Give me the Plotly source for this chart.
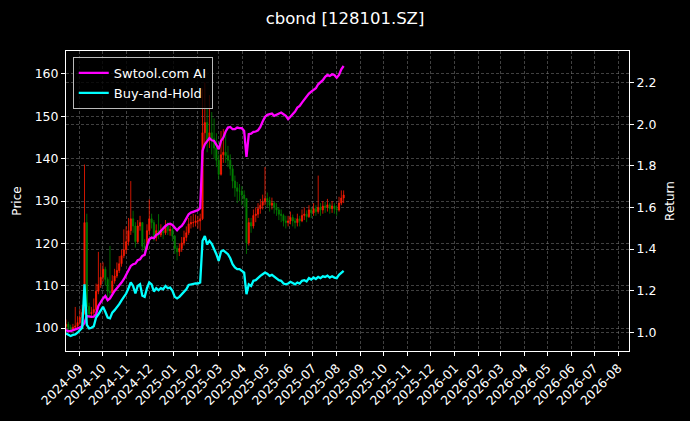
import pandas as pd
import plotly.graph_objects as go

TITLE = "cbond [128101.SZ]"
START_DATE = "2024-08-15"
BAR_STEP = "3D"
ENTRY_PRICE = 101.5
FIRST_OPEN = 100.4

close = [100.9, 100.2, 99.7, 100.2, 100.5, 101.3, 102.5, 103.7, 124.9, 105.1,
         103.4, 103.7, 104.4, 108.7, 110.3, 112.0, 113.9, 111.5, 108.7, 108.3,
         111.1, 112.3, 113.6, 115.2, 117.1, 118.5, 120.4, 123.0, 125.8, 124.1,
         120.4, 124.1, 124.9, 119.3, 118.8, 123.0, 125.8, 124.9, 121.4, 123.0,
         122.0, 123.0, 122.5, 124.1, 123.0, 123.3, 121.7, 118.8, 118.0, 118.8,
         120.1, 121.4, 122.5, 124.6, 124.9, 124.9, 125.3, 125.3, 125.8, 146.1,
         148.5, 144.4, 146.1, 144.7, 142.5, 139.6, 136.3, 140.9, 141.5, 140.7,
         139.6, 137.6, 134.7, 133.1, 132.3, 132.3, 131.4, 130.6, 120.1, 124.9,
         124.1, 126.6, 126.9, 128.2, 129.0, 129.8, 130.6, 130.1, 129.0, 129.5,
         128.5, 127.9, 126.9, 126.6, 125.3, 124.9, 125.3, 126.1, 125.3, 124.9,
         125.8, 125.3, 126.6, 126.9, 126.3, 127.9, 127.2, 128.2, 127.5, 128.5,
         127.9, 128.8, 128.5, 129.1, 128.2, 128.8, 128.2, 127.9, 129.5, 130.7,
         131.4]

high = [102.0, 101.5, 100.8, 101.0, 105.0, 102.8, 104.5, 105.5, 138.6, 127.0,
        106.0, 105.0, 107.0, 110.5, 118.0, 115.4, 115.5, 114.5, 112.0, 119.4,
        112.5, 114.0, 115.5, 117.0, 118.5, 123.3, 124.0, 126.0, 134.7, 127.7,
        125.0, 125.5, 126.5, 125.0, 121.0, 124.5, 130.4, 127.0, 125.5, 124.5,
        126.9, 124.5, 124.0, 125.5, 125.0, 124.8, 123.8, 122.0, 119.5, 120.0,
        121.5, 123.0, 124.0, 126.0, 126.5, 127.0, 126.8, 126.5, 127.0, 156.5,
        158.0, 152.0, 155.0, 151.0, 149.5, 146.0, 141.0, 146.5, 147.0, 146.0,
        143.0, 141.0, 138.5, 136.0, 134.5, 134.0, 133.5, 132.5, 130.6, 126.0,
        126.0, 128.0, 128.5, 129.5, 130.5, 131.5, 138.0, 132.0, 131.0, 130.8,
        130.0, 129.5, 128.5, 128.0, 127.0, 126.5, 126.5, 127.5, 126.8, 126.0,
        127.0, 126.5, 128.0, 128.5, 127.8, 129.0, 128.5, 129.5, 129.0, 136.0,
        129.5, 130.0, 129.8, 130.5, 129.6, 130.0, 129.5, 129.0, 131.0, 132.5,
        132.5]

low = [99.6, 99.5, 99.0, 99.3, 99.8, 100.2, 100.8, 102.0, 103.2, 104.0,
       102.5, 102.8, 103.0, 104.0, 108.0, 109.5, 111.0, 110.0, 107.0, 107.2,
       107.8, 110.5, 111.8, 113.0, 114.5, 116.5, 117.5, 119.5, 122.0, 122.5,
       119.0, 120.0, 123.0, 118.0, 117.5, 118.5, 122.0, 123.5, 120.5, 120.5,
       121.0, 121.5, 121.0, 122.0, 122.0, 121.8, 120.5, 117.5, 116.0, 117.0,
       118.0, 119.5, 120.5, 122.0, 123.5, 123.8, 124.0, 123.5, 123.0, 125.5,
       143.0, 141.5, 142.5, 141.0, 140.0, 138.0, 135.0, 136.0, 139.0, 139.0,
       138.0, 136.0, 133.0, 131.0, 129.5, 130.0, 129.0, 128.5, 117.5, 119.5,
       122.5, 123.5, 125.0, 126.0, 127.0, 128.0, 129.0, 128.5, 127.5, 128.0,
       127.0, 126.5, 125.5, 125.0, 124.0, 123.5, 124.0, 124.5, 124.0, 123.5,
       124.0, 124.0, 125.0, 125.5, 125.0, 126.0, 126.0, 126.5, 126.5, 127.0,
       126.5, 127.0, 127.2, 127.5, 127.0, 127.2, 127.0, 126.5, 127.5, 129.0,
       129.5]

strategy_return = [1.010, 1.006, 1.006, 1.010, 1.013, 1.016, 1.022, 1.030, 1.045, 1.078,
                   1.075, 1.074, 1.075, 1.087, 1.127, 1.147, 1.163, 1.175, 1.154, 1.163,
                   1.183, 1.199, 1.212, 1.223, 1.239, 1.255, 1.276, 1.295, 1.319, 1.327,
                   1.330, 1.346, 1.351, 1.367, 1.372, 1.415, 1.447, 1.455, 1.452, 1.468,
                   1.474, 1.487, 1.500, 1.511, 1.519, 1.522, 1.516, 1.503, 1.490, 1.503,
                   1.511, 1.527, 1.551, 1.567, 1.575, 1.580, 1.583, 1.587, 1.596, 1.872,
                   1.904, 1.920, 1.933, 1.923, 1.920, 1.901, 1.880, 1.920, 1.936, 1.965,
                   1.984, 1.987, 1.976, 1.976, 1.984, 1.981, 1.981, 1.968, 1.843, 1.952,
                   1.955, 1.963, 1.965, 1.971, 1.987, 2.013, 2.035, 2.045, 2.048, 2.051,
                   2.040, 2.045, 2.051, 2.056, 2.048, 2.040, 2.024, 2.035, 2.048, 2.061,
                   2.080, 2.088, 2.104, 2.120, 2.131, 2.147, 2.157, 2.163, 2.173, 2.192,
                   2.200, 2.212, 2.228, 2.237, 2.232, 2.240, 2.237, 2.224, 2.237, 2.264,
                   2.280]

dates = pd.date_range(START_DATE, periods=len(close), freq=BAR_STEP)
open_ = [FIRST_OPEN] + close[:-1]
bh_return = [c / ENTRY_PRICE for c in close]

fig = go.Figure()
fig.add_trace(go.Candlestick(
    x=dates, open=open_, high=high, low=low, close=close,
    increasing=dict(line=dict(color="#ff1a00", width=0.8), fillcolor="#ff1a00"),
    decreasing=dict(line=dict(color="#008000", width=0.8), fillcolor="#008000"),
    whiskerwidth=0, showlegend=False, yaxis="y"))
fig.add_trace(go.Scatter(x=dates, y=strategy_return, mode="lines", name="Swtool.com AI",
                         line=dict(color="#ff00ff", width=2.3), yaxis="y2"))
fig.add_trace(go.Scatter(x=dates, y=bh_return, mode="lines", name="Buy-and-Hold",
                         line=dict(color="#00ffff", width=2.3), yaxis="y2"))

grid = "rgba(128,128,128,0.5)"
GRID_DASH = "3px,2px"
TICK = 12.5
font = dict(family="DejaVu Sans", color="white", size=TICK)
axis_title_font = dict(family="DejaVu Sans", color="white", size=12)
fig.update_layout(
    width=690, height=421,
    paper_bgcolor="black", plot_bgcolor="black",
    margin=dict(l=66, r=61, t=51, b=70),
    font=font,
    title=dict(text=TITLE, x=0.5, xanchor="center", y=1 - 18 / 421, yanchor="middle",
               font=dict(family="DejaVu Sans", size=16.5, color="white")),
    xaxis=dict(type="date", range=["2024-08-15", "2026-08-15"],
               tick0="2024-09-01", dtick="M1", tickformat="%Y-%m", tickangle=-45,
               showline=True, linecolor="white", linewidth=1, mirror=True,
               ticks="outside", ticklen=4, tickcolor="white",
               showgrid=True, gridcolor=grid, griddash=GRID_DASH, gridwidth=0.6,
               rangeslider=dict(visible=False), zeroline=False),
    yaxis=dict(range=[94.6, 165.4], dtick=10, tick0=100,
               title=dict(text="Price", standoff=10, font=axis_title_font),
               showline=True, linecolor="white", linewidth=1,
               ticks="outside", ticklen=4, tickcolor="white",
               showgrid=True, gridcolor=grid, griddash=GRID_DASH, gridwidth=0.6, zeroline=False),
    yaxis2=dict(range=[0.910, 2.352], dtick=0.2, tick0=1.0, tickformat=".1f",
                overlaying="y", side="right",
                title=dict(text="Return", standoff=10, font=axis_title_font),
                showline=True, linecolor="white", linewidth=1,
                ticks="outside", ticklen=4, tickcolor="white",
                showgrid=True, gridcolor=grid, griddash=GRID_DASH, gridwidth=0.6, zeroline=False),
    legend=dict(x=0.012, y=0.98, xanchor="left", yanchor="top",
                bgcolor="rgba(0,0,0,0.8)", bordercolor="#bbbbbb", borderwidth=1,
                font=dict(family="DejaVu Sans", size=13, color="white")),
    showlegend=True,
)

fig.write_html("out.html", config={"displayModeBar": False},
               post_script="document.body.style.margin='0px';")
